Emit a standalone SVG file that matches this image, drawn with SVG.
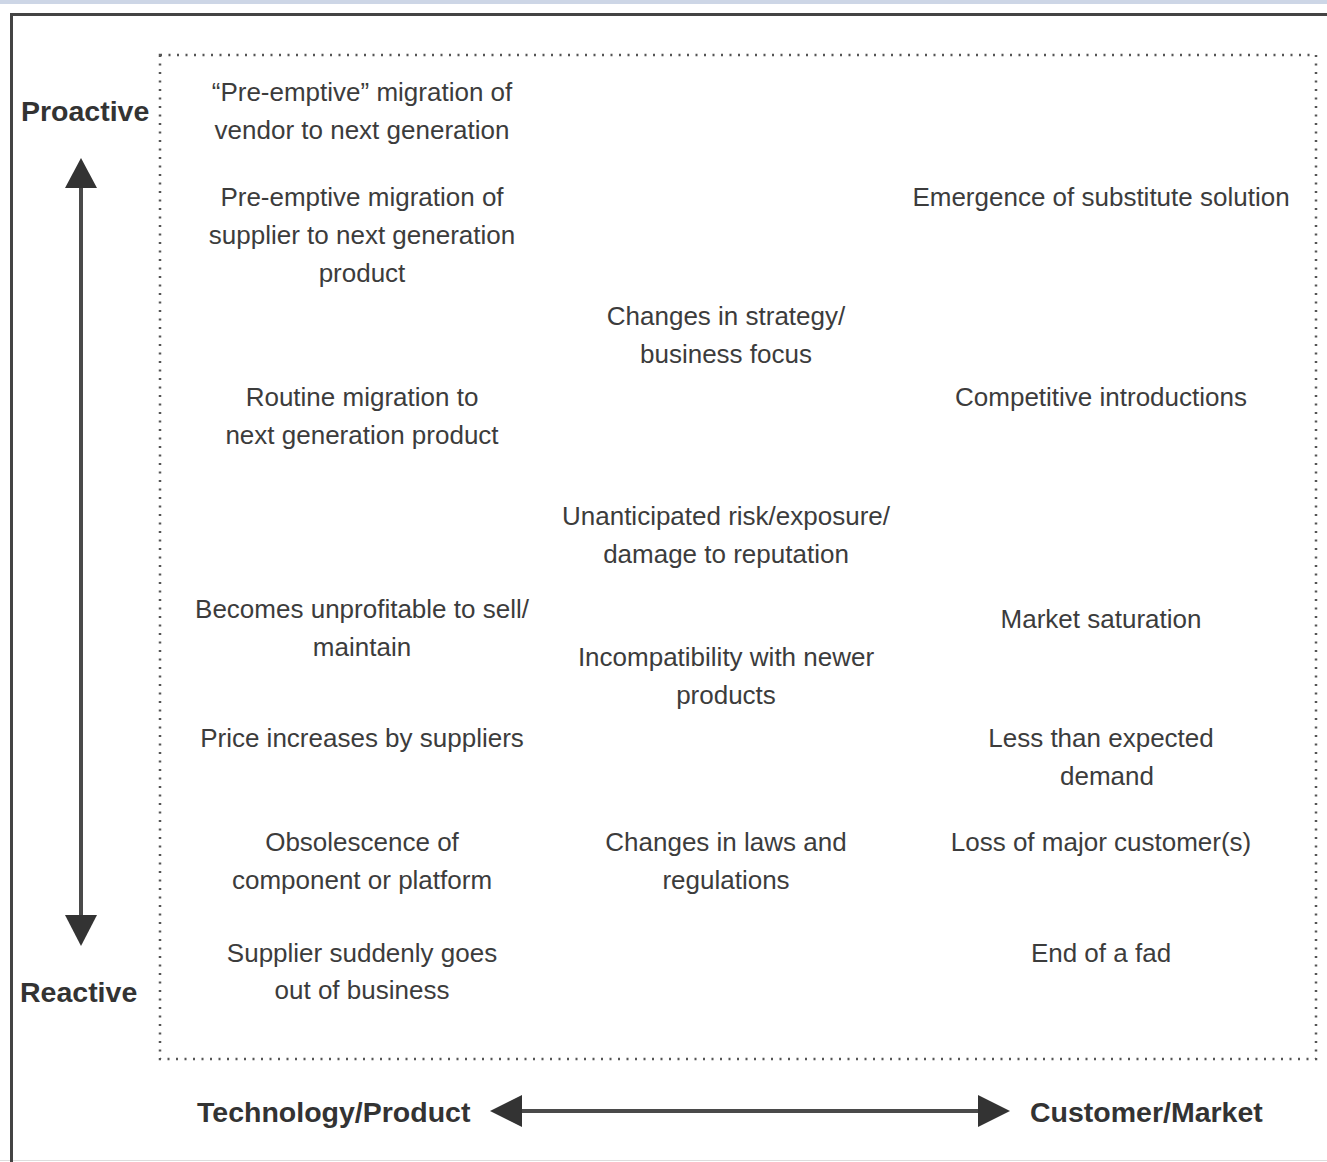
<svg xmlns="http://www.w3.org/2000/svg" width="1327" height="1162" viewBox="0 0 1327 1162">
<defs>
<style>
.t{font-family:"Liberation Sans",Arial,sans-serif;font-size:26px;fill:#3c3c3c;text-anchor:middle}
.b{font-family:"Liberation Sans",Arial,sans-serif;font-size:28.5px;font-weight:bold;fill:#333}
.shaft{stroke:#4a4a4a;stroke-width:4;fill:none}
.head{fill:#333}
</style>
</defs>
<rect width="1327" height="1162" fill="#fff"/>
<rect x="0" y="0" width="1327" height="4" fill="#cdd6e6"/>
<line x1="0" y1="1160.5" x2="1327" y2="1160.5" stroke="#ddd" stroke-width="1"/>
<path d="M11.5,1162 V14.5 H1327" fill="none" stroke="#444" stroke-width="3"/>
<rect id="frame" x="160" y="55" width="1156" height="1004" fill="none" stroke="#555" stroke-width="2.5" stroke-dasharray="2 6.5"/>

<g id="axis-labels">
<text class="b" x="21" y="121">Proactive</text>
<text class="b" x="20" y="1002">Reactive</text>
<text class="b" x="197" y="1122">Technology/Product</text>
<text class="b" x="1030" y="1122">Customer/Market</text>
</g>

<g id="connectors">
<line class="shaft" x1="81" y1="185" x2="81" y2="918"/>
<polygon class="head" points="81,158 65,188 97,188"/>
<polygon class="head" points="81,946 65,915 97,915"/>
<line class="shaft" x1="518" y1="1111" x2="982" y2="1111"/>
<polygon class="head" points="490,1111 522,1095 522,1127"/>
<polygon class="head" points="1010,1111 978,1095 978,1127"/>
</g>

<g id="n1"><text class="t" x="362" y="101">“Pre-emptive” migration of</text><text class="t" x="362" y="139">vendor to next generation</text></g>
<g id="n2"><text class="t" x="362" y="206">Pre-emptive migration of</text><text class="t" x="362" y="244">supplier to next generation</text><text class="t" x="362" y="282">product</text></g>
<g id="n3"><text class="t" x="362" y="406">Routine migration to</text><text class="t" x="362" y="444">next generation product</text></g>
<g id="n4"><text class="t" x="362" y="618">Becomes unprofitable to sell/</text><text class="t" x="362" y="656">maintain</text></g>
<g id="n5"><text class="t" x="362" y="747">Price increases by suppliers</text></g>
<g id="n6"><text class="t" x="362" y="851">Obsolescence of</text><text class="t" x="362" y="889">component or platform</text></g>
<g id="n7"><text class="t" x="362" y="962">Supplier suddenly goes</text><text class="t" x="362" y="999">out of business</text></g>

<g id="n8"><text class="t" x="726" y="325">Changes in strategy/</text><text class="t" x="726" y="363">business focus</text></g>
<g id="n9"><text class="t" x="726" y="525">Unanticipated risk/exposure/</text><text class="t" x="726" y="563">damage to reputation</text></g>
<g id="n10"><text class="t" x="726" y="666">Incompatibility with newer</text><text class="t" x="726" y="704">products</text></g>
<g id="n11"><text class="t" x="726" y="851">Changes in laws and</text><text class="t" x="726" y="889">regulations</text></g>

<g id="n12"><text class="t" x="1101" y="206">Emergence of substitute solution</text></g>
<g id="n13"><text class="t" x="1101" y="406">Competitive introductions</text></g>
<g id="n14"><text class="t" x="1101" y="628">Market saturation</text></g>
<g id="n15"><text class="t" x="1101" y="747">Less than expected</text><text class="t" x="1107" y="785">demand</text></g>
<g id="n16"><text class="t" x="1101" y="851">Loss of major customer(s)</text></g>
<g id="n17"><text class="t" x="1101" y="962">End of a fad</text></g>
</svg>
